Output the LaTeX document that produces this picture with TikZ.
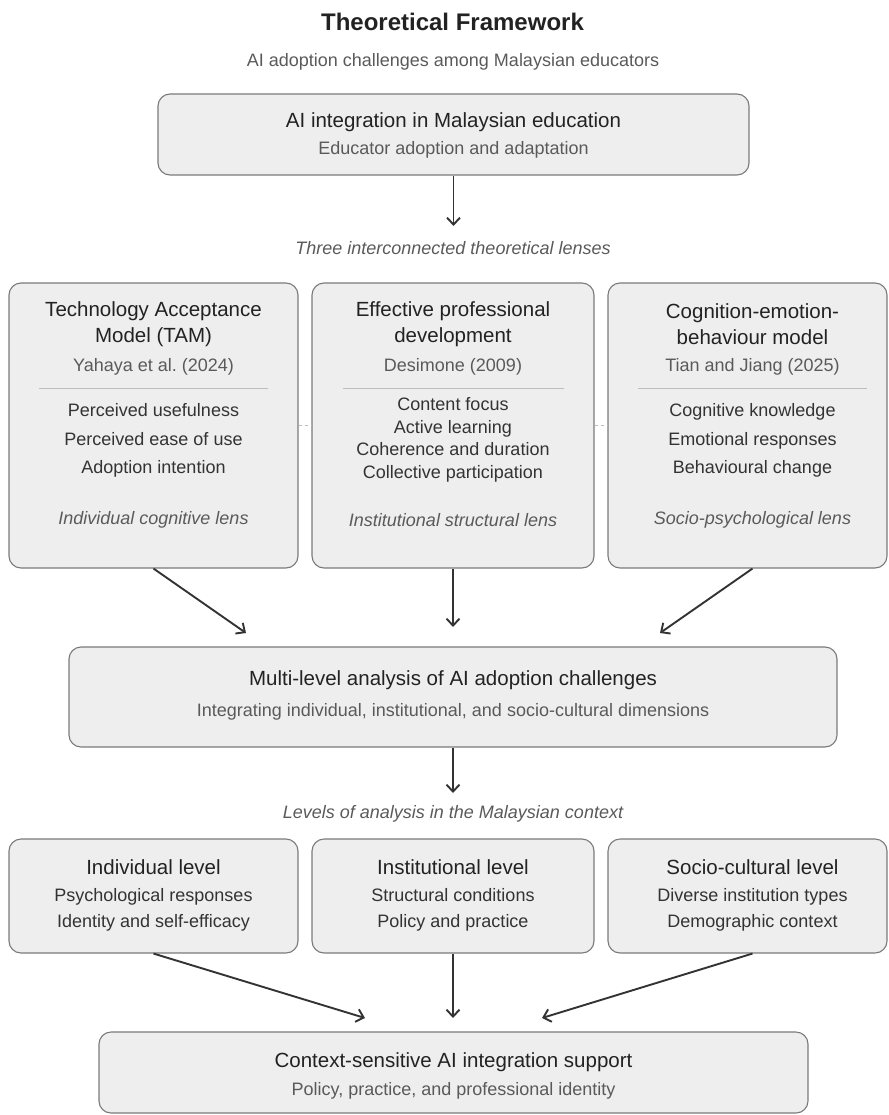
\documentclass[tikz,border=0pt]{standalone}
\usepackage{fontspec}
\setmainfont{Liberation Sans}
\usetikzlibrary{arrows.meta}

\definecolor{boxfill}{HTML}{EEEEEE}
\definecolor{boxline}{HTML}{7A7A7A}
\definecolor{ink}{HTML}{222222}
\definecolor{itemink}{HTML}{333333}
\definecolor{softink}{HTML}{5A5A5A}
\definecolor{ruleline}{HTML}{BDBDBD}

\tikzset{
  panel/.style={draw=boxline, fill=boxfill, line width=1.1pt, rounded corners=12pt, inner sep=0pt},
  heading/.style={font=\fontsize{20.5}{26}\selectfont, text=ink, align=center, inner sep=0pt},
  note/.style={font=\fontsize{18}{22}\selectfont, text=softink, align=center, inner sep=0pt},
  entry/.style={font=\fontsize{18}{#1}\selectfont, text=itemink, align=center, inner sep=0pt},
  entry/.default=28.5,
  lenstag/.style={font=\itshape\fontsize{18}{22}\selectfont, text=softink, inner sep=0pt},
  flow/.style={draw=itemink, line width=1.9pt, -{Straight Barb[length=7pt,width=13pt]}},
  link/.style={draw=ruleline, dashed, line width=0.9pt}
}

\begin{document}
\begin{tikzpicture}[x=1pt,y=-1pt]
\clip (0,0) rectangle (888,1115);

% Title
\node[font=\bfseries\fontsize{24}{28}\selectfont, text=ink, inner sep=0pt] (title) at (452.5,22) {Theoretical Framework};
\node[note] (subtitle) at (453,62) {AI adoption challenges among Malaysian educators};

% Top box
\node[panel, minimum width=591pt, minimum height=81pt] (intro) at (453.5,134.5) {};
\node[heading] (introtitle) at (453.5,122) {AI integration in Malaysian education};
\node[note] (introsub) at (453.5,150) {Educator adoption and adaptation};
\coordinate (lensin) at (453.5,226);
\draw[flow] (intro.south) -- (lensin);
\node[lenstag] (lenscap) at (453,248) {Three interconnected theoretical lenses};

% Three lenses
\node[panel, minimum width=289pt, minimum height=285pt] (tam) at (153.5,425.5) {};
\node[panel, minimum width=282pt, minimum height=285pt] (epd) at (453,425.5) {};
\node[panel, minimum width=279pt, minimum height=285pt] (ceb) at (747.5,425.5) {};
\draw[link] (tam.east) -- (epd.west);
\draw[link] (epd.east) -- (ceb.west);

\node[heading] (tamtitle) at (153.5,324) {Technology Acceptance\\Model (TAM)};
\node[note] (tamref) at (153.5,367) {Yahaya et al.\ (2024)};
\draw[ruleline, line width=0.8pt] (39,388) -- (268,388);
\node[entry] (tamitems) at (153.5,440.5) {Perceived usefulness\\Perceived ease of use\\Adoption intention};
\node[lenstag] (tamlens) at (153.5,520) {Individual cognitive lens};

\node[heading] (epdtitle) at (453,324) {Effective professional\\development};
\node[note] (epdref) at (453,367) {Desimone (2009)};
\draw[ruleline, line width=0.8pt] (343,388) -- (564,388);
\node[entry=22.7] (epditems) at (453,440) {Content focus\\Active learning\\Coherence and duration\\Collective participation};
\node[lenstag] (epdlens) at (453,520) {Institutional structural lens};

\node[heading] (cebtitle) at (752.5,324) {Cognition-emotion-\\behaviour model};
\node[note] (cebref) at (752.5,367) {Tian and Jiang (2025)};
\draw[ruleline, line width=0.8pt] (638,388) -- (867,388);
\node[entry] (cebitems) at (752.5,440.5) {Cognitive knowledge\\Emotional responses\\Behavioural change};
\node[lenstag] (ceblens) at (752.5,520) {Socio-psychological lens};

% Into the multi-level box
\coordinate (multiin1) at (246,633);
\coordinate (multiin2) at (453,627);
\coordinate (multiin3) at (660,633);
\draw[flow] (tam.south) -- (multiin1);
\draw[flow] (epd.south) -- (multiin2);
\draw[flow] (ceb.south -| cebtitle.center) -- (multiin3);

\node[panel, minimum width=768pt, minimum height=100pt] (multi) at (453,697) {};
\node[heading] (multititle) at (453,680) {Multi-level analysis of AI adoption challenges};
\node[note] (multisub) at (453,712) {Integrating individual, institutional, and socio-cultural dimensions};
\coordinate (levelin) at (453,793);
\draw[flow] (multi.south) -- (levelin);
\node[lenstag] (levelcap) at (453,814) {Levels of analysis in the Malaysian context};

% Three levels
\node[panel, minimum width=289pt, minimum height=114pt] (indiv) at (153.5,896) {};
\node[panel, minimum width=282pt, minimum height=114pt] (inst) at (453,896) {};
\node[panel, minimum width=279pt, minimum height=114pt] (socio) at (747.5,896) {};
\node[heading] (indivtitle) at (153.5,867) {Individual level};
\node[entry=26] (indivitems) at (153.5,910) {Psychological responses\\Identity and self-efficacy};
\node[heading] (insttitle) at (453,867) {Institutional level};
\node[entry=26] (institems) at (453,910) {Structural conditions\\Policy and practice};
\node[heading] (sociotitle) at (752.5,867) {Socio-cultural level};
\node[entry=26] (socioitems) at (752.5,910) {Diverse institution types\\Demographic context};

% Into the support box
\coordinate (supportin1) at (365,1018);
\coordinate (supportin2) at (453,1018);
\coordinate (supportin3) at (542,1018);
\draw[flow] (indiv.south) -- (supportin1);
\draw[flow] (inst.south) -- (supportin2);
\draw[flow] (socio.south -| sociotitle.center) -- (supportin3);

\node[panel, minimum width=709pt, minimum height=81pt] (support) at (453.5,1072.5) {};
\node[heading] (supporttitle) at (453.5,1062) {Context-sensitive AI integration support};
\node[note] (supportsub) at (453.5,1091) {Policy, practice, and professional identity};
\end{tikzpicture}
\end{document}
